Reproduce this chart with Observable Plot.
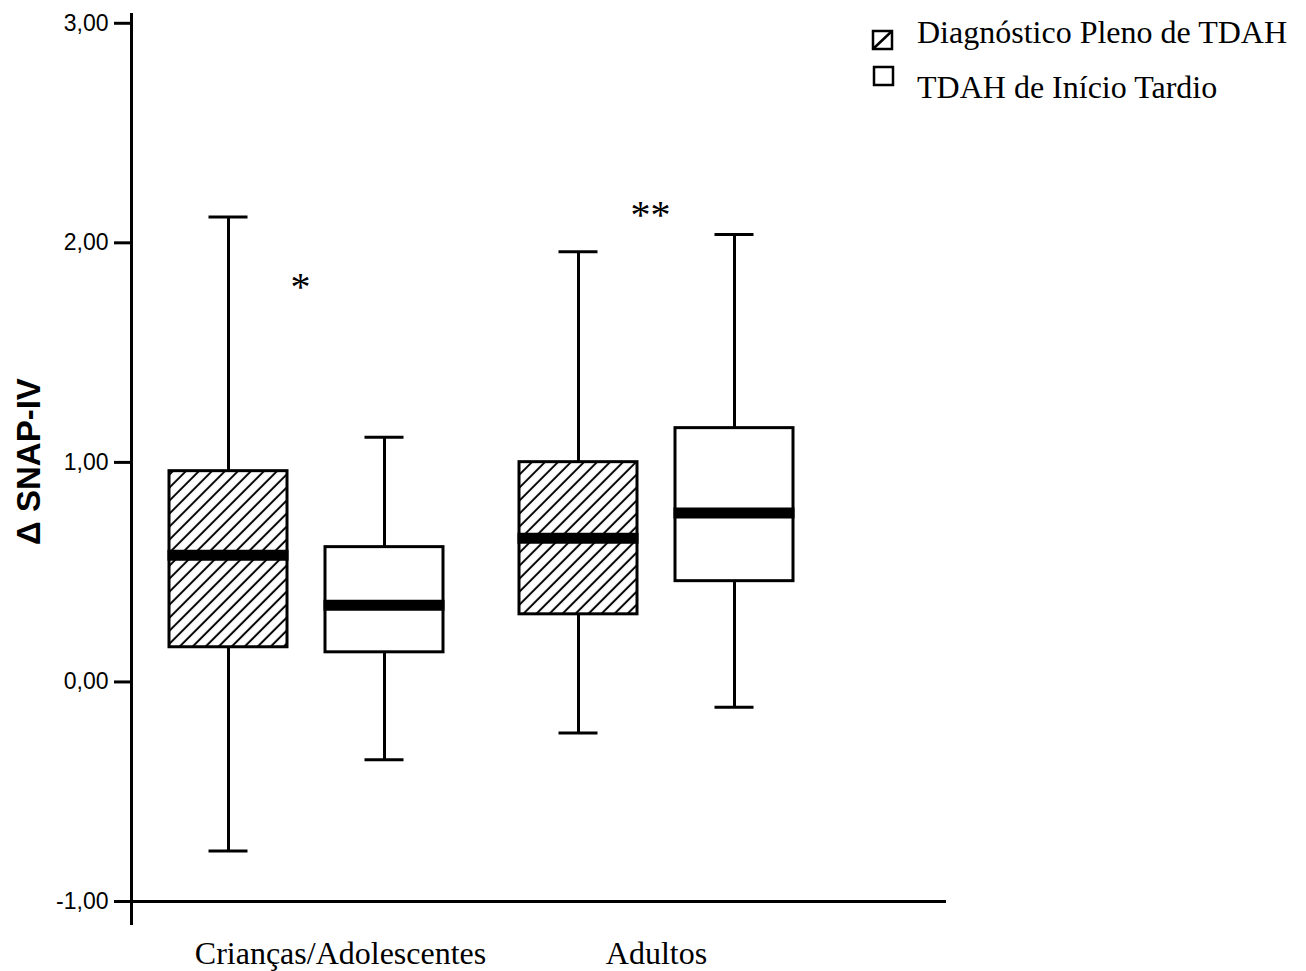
<!DOCTYPE html>
<html>
<head>
<meta charset="utf-8">
<script src="https://cdn.jsdelivr.net/npm/d3@7"></script>
<script src="https://cdn.jsdelivr.net/npm/@observablehq/plot@0.6"></script>
<style>
  body { margin: 0; background: #fff; }
  #wrap { position: relative; width: 1306px; height: 971px; }
  #legenda { position: absolute; left: 0; top: 0; pointer-events: none; }
</style>
</head>
<body>
<svg width="0" height="0" style="position:absolute">
  <defs>
    <pattern id="hachura" patternUnits="userSpaceOnUse" width="9.2" height="10" patternTransform="rotate(45)">
      <rect width="9.2" height="10" fill="white"/>
      <line x1="4.6" y1="-1" x2="4.6" y2="11" stroke="black" stroke-width="2"/>
    </pattern>
  </defs>
</svg>
<div id="wrap"></div>
<script>
// ---- Data ----
const grupos       = ["Crianças/Adolescentes", "Crianças/Adolescentes", "Adultos", "Adultos"];
const diagnosticos = ["Diagnóstico Pleno de TDAH", "TDAH de Início Tardio", "Diagnóstico Pleno de TDAH", "TDAH de Início Tardio"];
const minimo  = [-0.77, -0.354, -0.232, -0.115];
const quartil1 = [0.158, 0.135, 0.308, 0.459];
const mediana = [0.577, 0.349, 0.655, 0.769];
const quartil3 = [0.960, 0.614, 1.001, 1.156];
const maximo  = [2.118, 1.115, 1.959, 2.038];

const gruposUnicos = ["Crianças/Adolescentes", "Adultos"];
const tiposDiag = ["Diagnóstico Pleno de TDAH", "TDAH de Início Tardio"];
const yTicks = [-1, 0, 1, 2, 3];
const tituloY = "Δ SNAP-IV";

// significance annotations
const anotTexto = ["*", "**"];
const anotGrupo = ["Crianças/Adolescentes", "Adultos"];
const anotY = [1.80, 2.125];

const dados = grupos.map((g, i) => ({
  grupo: g, diag: diagnosticos[i],
  min: minimo[i], q1: quartil1[i], med: mediana[i], q3: quartil3[i], max: maximo[i]
}));
const anotacoes = anotTexto.map((t, i) => ({t, grupo: anotGrupo[i], y: anotY[i]}));

const serif = "'Liberation Serif', 'Times New Roman', serif";
const sans = "'Liberation Sans', Arial, sans-serif";

const chart = Plot.plot({
  width: 1306,
  height: 971,
  marginLeft: 131,
  marginRight: 362,
  marginTop: 14,
  marginBottom: 70,
  style: {background: "white", color: "black", overflow: "visible", fontFamily: sans},
  fx: {domain: gruposUnicos, paddingInner: 0, paddingOuter: 0.1614, align: 0, axis: null, label: null},
  x: {domain: tiposDiag, paddingInner: 0.242, paddingOuter: 0.236, axis: null},
  y: {domain: [-1, 3.04], axis: null},
  color: {domain: tiposDiag, range: ["url(#hachura)", "white"]},
  marks: [
    // whiskers
    Plot.ruleX(dados, {fx: "grupo", x: "diag", y1: "q3", y2: "max", strokeWidth: 3}),
    Plot.ruleX(dados, {fx: "grupo", x: "diag", y1: "min", y2: "q1", strokeWidth: 3}),
    Plot.tickY(dados, {fx: "grupo", x: "diag", y: "max", strokeWidth: 3, insetLeft: 39.5, insetRight: 39.5}),
    Plot.tickY(dados, {fx: "grupo", x: "diag", y: "min", strokeWidth: 3, insetLeft: 39.5, insetRight: 39.5}),
    // boxes
    Plot.barY(dados, {fx: "grupo", x: "diag", y1: "q1", y2: "q3", fill: "diag", stroke: "black", strokeWidth: 3}),
    // medians
    Plot.tickY(dados, {fx: "grupo", x: "diag", y: "med", strokeWidth: 11, insetLeft: -1.5, insetRight: -1.5}),
    // axis lines
    Plot.frame({anchor: "bottom", facet: "super", strokeWidth: 3, insetRight: -113}),
    Plot.frame({anchor: "left", facet: "super", strokeWidth: 3, insetBottom: -22}),
    // y axis
    Plot.axisY({
      ticks: yTicks,
      tickFormat: d => d.toFixed(2).replace(".", ","),
      tickSize: 17, tickPadding: 6, fontSize: 23, fontFamily: sans,
      strokeWidth: 3, label: null
    }),
    // facet (group) labels
    Plot.axisFx({ticks: [gruposUnicos[0]], anchor: "bottom", tickSize: 0, tickPadding: 40,
      fontSize: 32, fontFamily: serif, label: null, dx: 34}),
    Plot.axisFx({ticks: [gruposUnicos[1]], anchor: "bottom", tickSize: 0, tickPadding: 40,
      fontSize: 32, fontFamily: serif, label: null}),
    // significance stars
    Plot.text(anotacoes, {fx: "grupo", y: "y", text: "t", dx: -6, fontSize: 40, fontFamily: serif}),
    // y title
    Plot.text([{g: gruposUnicos[0], t: tituloY}], {
      fx: "g", text: "t", frameAnchor: "left", textAnchor: "middle", rotate: -90, dx: -102.5, dy: 3.5,
      fontSize: 33, fontWeight: "bold", fontFamily: sans
    })
  ]
});

const wrap = document.getElementById("wrap");
wrap.appendChild(chart);

// legend (overlay)
const leg = d3.select(wrap).append("svg")
  .attr("id", "legenda").attr("width", 1306).attr("height", 971);
const itens = [
  {nome: tiposDiag[0], hach: true, sq: [873, 31], base: 43},
  {nome: tiposDiag[1], hach: false, sq: [874, 67], base: 98}
];
for (const it of itens) {
  const [sx, sy] = it.sq;
  leg.append("rect").attr("x", sx).attr("y", sy).attr("width", 19).attr("height", 18)
    .attr("fill", "white").attr("stroke", "black").attr("stroke-width", 2.5);
  if (it.hach) {
    leg.append("line").attr("x1", sx).attr("y1", sy + 18).attr("x2", sx + 19).attr("y2", sy)
      .attr("stroke", "black").attr("stroke-width", 2.5);
  }
  leg.append("text").attr("x", 917).attr("y", it.base)
    .attr("font-family", serif).attr("font-size", 32).attr("fill", "black")
    .text(it.nome);
}
</script>
</body>
</html>
